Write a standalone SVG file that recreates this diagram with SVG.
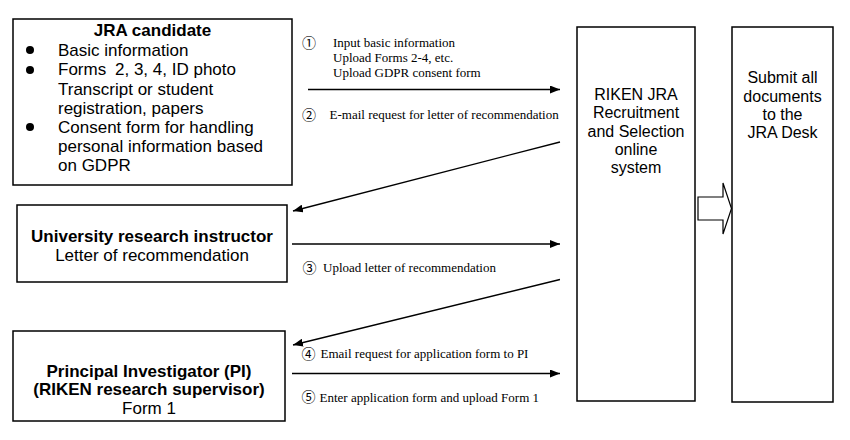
<svg xmlns="http://www.w3.org/2000/svg" width="850" height="440" viewBox="0 0 850 440">
<defs>
<style>
.box{fill:#fff;stroke:#000;stroke-width:1.5}
.s{font-family:"Liberation Sans",Arial,sans-serif;font-size:17px;fill:#000}
.b{font-weight:bold}
.m{text-anchor:middle}
.r{font-family:"Liberation Sans",Arial,sans-serif;font-size:16px;fill:#000;text-anchor:middle}
.t{font-family:"Liberation Serif","Times New Roman","Noto Sans CJK JP",serif;font-size:13px;fill:#000}
.c{font-family:"Noto Sans CJK JP","Liberation Serif",serif;font-size:14px;fill:#000}
.ln{stroke:#000;stroke-width:1.3;fill:none}
</style>
<marker id="ah" viewBox="0 0 10 8" refX="10" refY="4" markerWidth="10" markerHeight="8" markerUnits="userSpaceOnUse" orient="auto">
<path d="M0,0 L10,4 L0,8 Z" fill="#000"/>
</marker>
</defs>
<rect width="850" height="440" fill="#fff"/>

<g id="jra-candidate">
<rect class="box" x="13" y="19" width="279" height="166"/>
<text class="s b m" x="152.5" y="36">JRA candidate</text>
<circle cx="30" cy="50" r="4"/>
<circle cx="30" cy="70" r="4"/>
<circle cx="30" cy="127" r="4"/>
<text class="s" x="58" y="56">Basic information</text>
<text class="s" x="58" y="75.3">Forms</text>
<text class="s" x="115" y="75.3">2, 3, 4, ID photo</text>
<text class="s" x="58" y="94.5">Transcript or student</text>
<text class="s" x="58" y="113.7">registration, papers</text>
<text class="s" x="58" y="133">Consent form for handling</text>
<text class="s" x="58" y="152.2">personal information based</text>
<text class="s" x="58" y="171.4">on GDPR</text>
</g>

<g id="university-instructor">
<rect class="box" x="17" y="205" width="270" height="77"/>
<text class="s b m" x="152" y="242">University research instructor</text>
<text class="s m" x="152" y="260.5">Letter of recommendation</text>
</g>

<g id="principal-investigator">
<rect class="box" x="13" y="331" width="272" height="90"/>
<text class="s b m" x="149" y="376.5">Principal Investigator (PI)</text>
<text class="s b m" x="149" y="395">(RIKEN research supervisor)</text>
<text class="s m" x="149" y="413.5">Form 1</text>
</g>

<g id="riken-system">
<rect class="box" x="577" y="27" width="118" height="374"/>
<text class="r" x="636" y="100">RIKEN JRA</text>
<text class="r" x="636" y="118.2">Recruitment</text>
<text class="r" x="636" y="136.6">and Selection</text>
<text class="r" x="636" y="154.8">online</text>
<text class="r" x="636" y="173">system</text>
</g>

<g id="jra-desk">
<rect class="box" x="732" y="27" width="101" height="375"/>
<text class="r" x="782.5" y="83.3">Submit all</text>
<text class="r" x="782.5" y="101.6">documents</text>
<text class="r" x="782.5" y="119.9">to the</text>
<text class="r" x="782.5" y="138.2">JRA Desk</text>
</g>

<g id="connectors">
<line class="ln" x1="308" y1="89.5" x2="560" y2="89.5" marker-end="url(#ah)"/>
<line class="ln" x1="560" y1="142" x2="293" y2="211" marker-end="url(#ah)"/>
<line class="ln" x1="292" y1="244" x2="560" y2="244" marker-end="url(#ah)"/>
<line class="ln" x1="560" y1="279.5" x2="293" y2="345" marker-end="url(#ah)"/>
<line class="ln" x1="292" y1="373.5" x2="560" y2="373.5" marker-end="url(#ah)"/>
<polygon points="698,197 723,197 723,183 731.5,208.5 723,234 723,220 698,220" fill="#fff" stroke="#000" stroke-width="1.2"/>

<text class="c" x="302" y="47.5">①</text>
<text class="t" x="333" y="47">Input basic information</text>
<text class="t" x="333" y="62">Upload Forms 2-4, etc.</text>
<text class="t" x="333" y="77">Upload GDPR consent form</text>
<text class="c" x="302" y="119.5">②</text>
<text class="t" x="329.5" y="119">E-mail request for letter of recommendation</text>
<text class="c" x="302.5" y="272.5">③</text>
<text class="t" x="323" y="272">Upload letter of recommendation</text>
<text class="c" x="301.5" y="358.5">④</text>
<text class="t" x="320.5" y="358">Email request for application form to PI</text>
<text class="c" x="301.5" y="402">⑤</text>
<text class="t" x="319.5" y="401.7">Enter application form and upload Form 1</text>
</g>
</svg>
